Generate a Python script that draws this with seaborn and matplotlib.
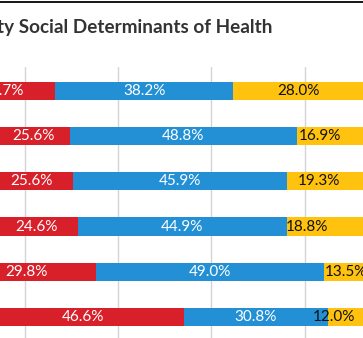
import matplotlib
matplotlib.use("Agg")
import matplotlib.pyplot as plt
import seaborn as sns
import pandas as pd
import numpy as np
from matplotlib.patches import Rectangle

# ---- data (percent) ----
rows = ["Row 1", "Row 2", "Row 3", "Row 4", "Row 5", "Row 6"]
seg0 = [3.8, 4.0, 4.7, 6.7, 5.4, 7.6]        # cut off at left
red = [22.7, 25.6, 25.6, 24.6, 29.8, 46.6]
blue = [38.2, 48.8, 45.9, 44.9, 49.0, 30.8]
yellow = [28.0, 16.9, 19.3, 18.8, 13.5, 12.0]
seg4 = [7.3, 4.7, 4.5, 5.0, 2.3, 3.0]         # cut off at right
title = "Community Social Determinants of Health"

segments = [seg0, red, blue, yellow, seg4]

# ---- styling ----
colors = ["#7F7F7F", "#D7202A", "#2390D5", "#FFC20E", "#F5B400"]
label_colors = [None, "#FFFFFF", "#FFFFFF", "#111111", None]
# manual label nudges (points) as placed in the original chart
label_nudge = [
    None,
    [0, 17, 13, 12, 0, 5],
    [0, 0, 0, 0, 0, 0],
    [0, -12, -9, -17, -7, -16],
    None,
]

sns.set_theme(style="white")
plt.rcParams["font.family"] = ["Lato", "DejaVu Sans"]

W, H = 363, 338
fig = plt.figure(figsize=(W / 100, H / 100), dpi=100)
fig.patch.set_facecolor("white")

ax_top_px = 67
ax = fig.add_axes([0, 0, 1, (H - ax_top_px) / H])

cum = np.cumsum(np.array(segments), axis=0)
df = pd.DataFrame({"row": rows})
for k in range(len(segments) - 1, -1, -1):
    df["v"] = cum[k]
    sns.barplot(data=df, x="v", y="row", orient="h", color=colors[k],
                saturation=1, width=0.4, edgecolor="none", linewidth=0,
                ax=ax, zorder=2)

# labels
for k, seg in enumerate(segments):
    if label_colors[k] is None:
        continue
    for i, v in enumerate(seg):
        center = cum[k][i] - v / 2
        ax.annotate(f"{v:.1f}%", (center, i), xytext=(label_nudge[k][i], 0),
                    textcoords="offset points", ha="center", va="center",
                    color=label_colors[k], fontsize=11, zorder=3)

px_per_pct = 4.66
x0_px = -68.3
ax.set_xlim(-x0_px / px_per_pct, (W - x0_px) / px_per_pct)
ax.set_ylim(5.46, -0.52)
ax.set_xticks([20, 40, 60, 80])
ax.xaxis.grid(True, color="#D4D4D4", linewidth=1.0, zorder=0)
ax.set_axisbelow(True)
ax.tick_params(axis="both", length=0, labelbottom=False, labelleft=False)
ax.set_xlabel("")
ax.set_ylabel("")
for s in ax.spines.values():
    s.set_visible(False)

# title (cut off at left)
fig.text(272 / W, 1 - 33.5 / H, title, ha="right", va="baseline",
         fontsize=13.6, fontweight="bold", color="#333333")

# top border line
fig.add_artist(Rectangle((0, 1 - 3 / H), 1, 2.2 / H, transform=fig.transFigure,
                         facecolor="#1A1A1A", edgecolor="none"))

fig.savefig("out.png", dpi=100, facecolor="white")
